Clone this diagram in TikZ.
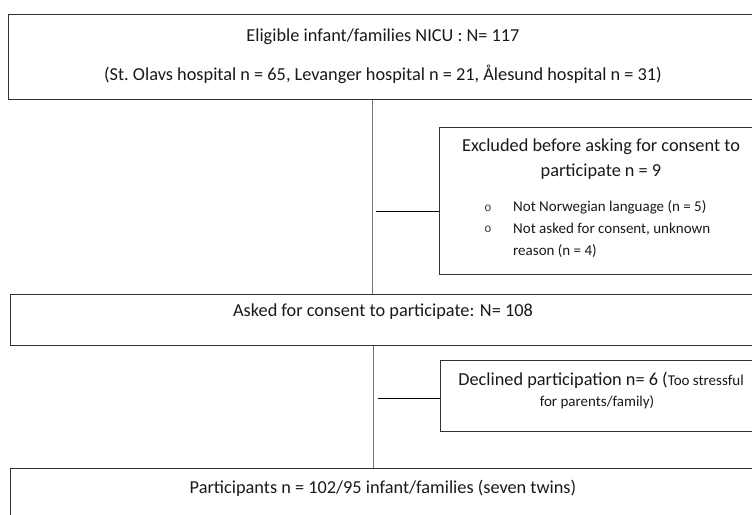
\documentclass[tikz,border=0pt]{standalone}
\usepackage{fontspec}
\setmainfont{Carlito}
\newfontfamily\bulletfont{Liberation Mono}
\begin{document}
\begin{tikzpicture}[x=1pt,y=-1pt,
  box/.style={draw=black!80,line width=1.3pt,anchor=north west,inner sep=0pt},
  vline/.style={draw=black!55,line width=1pt},
  hline/.style={draw=black,line width=1pt},
  big/.style={font=\fontsize{18.3}{22}\selectfont,inner sep=0pt,text=black!90},
  small/.style={font=\fontsize{15}{18}\selectfont,inner sep=0pt,text=black!90},
  bul/.style={font=\bulletfont\fontsize{12}{14}\selectfont,inner sep=0pt,text=black!80}]
\useasboundingbox (0,0) rectangle (752,514);
\clip (0,0) rectangle (752,514);
% boxes
\node[box,minimum width=750pt,minimum height=85pt] (elig) at (8,14) {};
\node[box,minimum width=323pt,minimum height=147pt] (excl) at (439,127) {};
\node[box,minimum width=748pt,minimum height=51pt] (asked) at (10,294) {};
\node[box,minimum width=322pt,minimum height=71pt] (decl) at (440,360) {};
\node[box,minimum width=748pt,minimum height=70pt] (part) at (10,468) {};
% texts
\node[big] (t1) at (383,37) {Eligible infant/families NICU : N= 117};
\node[big] (t2) at (383,74) {(St.\ Olavs hospital n = 65, Levanger hospital n = 21, Ålesund hospital n = 31)};
\node[big] (t3) at (601,147) {Excluded before asking for consent to};
\node[big] (t4) at (601,172) {participate n = 9};
\node[bul] (b1) at (488,208) {o};
\node[bul] (b2) at (488,229) {o};
\node[small,anchor=west] (t5) at (513,207) {Not Norwegian language (n = 5)};
\node[small,anchor=west] (t6) at (513,229) {Not asked for consent, unknown};
\node[small,anchor=west] (t7) at (513,251) {reason (n = 4)};
\node[big] (t8) at (383,312) {Asked for consent to participate: N= 108};
\node[big] (t9) at (601,380) {Declined participation n= 6 ({\fontsize{15}{18}\selectfont Too stressful}};
\node[small] (t10) at (597,402) {for parents/family)};
\node[big] (t11) at (383,488) {Participants n = 102/95 infant/families (seven twins)};
% connectors
\coordinate (v1) at (372,0);
\draw[vline] (elig.south -| v1) -- (asked.north -| v1);
\coordinate (v2) at (373,0);
\draw[vline] (asked.south -| v2) -- (part.north -| v2);
\coordinate (h1) at (376,211);
\draw[hline] (h1) -- (h1 -| excl.west);
\coordinate (h2) at (378,398);
\draw[hline] (h2) -- (h2 -| decl.west);
\end{tikzpicture}
\end{document}
